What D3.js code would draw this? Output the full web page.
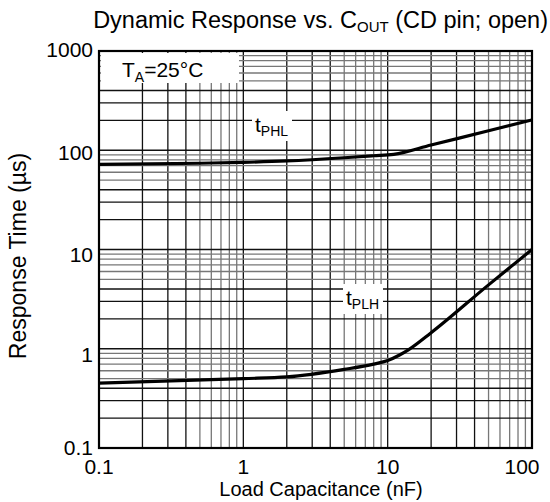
<!DOCTYPE html>
<html><head><meta charset="utf-8">
<script src="https://cdn.jsdelivr.net/npm/d3@7"></script>
<style>body{margin:0;background:#fff}svg{display:block}text{font-family:"Liberation Sans",Arial,sans-serif;fill:#000}</style>
</head><body><svg id="c" width="550" height="502"></svg>
<script>
const xTicks = [0.1, 1, 10, 100];
const yTicks = [0.1, 1, 10, 100, 1000];
const tPHL = [[0.1,72],[0.5,74],[1,75.5],[2,78],[5,84],[8,88],[11,91],[20,113],[50,157],[100,202]];
const tPLH = [[0.1,0.45],[1,0.5],[2,0.52],[5,0.62],[8,0.7],[10,0.76],[12,0.86],[14,0.98],[20,1.45],[50,4.4],[100,10]];

const svg = d3.select("#c");
const L=99, R=532, T=51, B=448;
const x = d3.scaleLog().domain([0.1,100]).range([L,R]);
const y = d3.scaleLog().domain([0.1,1000]).range([B,T]);

const g = svg.append("g");
const xs=[], ys=[];
for (let d=0.1; d<100; d*=10) for (let k=1;k<=9;k++) xs.push([d*k,k]);
for (let d=0.1; d<1000; d*=10) for (let k=1;k<=9;k++) ys.push([d*k,k]);
const col = k => (k<=4 ? "#111" : "#777");
g.selectAll(".gx").data(xs).join("line")
  .attr("x1",d=>x(d[0])).attr("x2",d=>x(d[0])).attr("y1",T).attr("y2",B)
  .attr("stroke",d=>col(d[1])).attr("stroke-width",1.3);
g.selectAll(".gy").data(ys).join("line")
  .attr("y1",d=>y(d[0])).attr("y2",d=>y(d[0])).attr("x1",L).attr("x2",R)
  .attr("stroke",d=>col(d[1])).attr("stroke-width",1.3);

svg.append("rect").attr("x",L).attr("y",T).attr("width",R-L).attr("height",B-T)
  .attr("fill","none").attr("stroke","#000").attr("stroke-width",2.2);

svg.append("rect").attr("x",L+2).attr("y",T+2).attr("width",138).attr("height",30).attr("fill","#fff");
const ta = svg.append("text").attr("x",122).attr("y",77).attr("font-size",21);
ta.append("tspan").text("T");
ta.append("tspan").attr("font-size",14).attr("dy",5).text("A");
ta.append("tspan").attr("dy",-5).text("=25°C");

const line = d3.line().x(d=>x(d[0])).y(d=>y(d[1])).curve(d3.curveMonotoneX);
[tPHL,tPLH].forEach(s=>svg.append("path").attr("d",line(s)).attr("fill","none")
  .attr("stroke","#000").attr("stroke-width",3.2));

function lab(xp,yp,sub){
  svg.append("rect").attr("x",xp-3).attr("y",yp-21).attr("width",40).attr("height",30).attr("fill","#fff");
  const t=svg.append("text").attr("x",xp).attr("y",yp).attr("font-size",21);
  t.append("tspan").text("t");
  t.append("tspan").attr("font-size",14).attr("dy",4).text(sub);
}
lab(255,132,"PHL");
lab(346,305,"PLH");

svg.selectAll(".xl").data(xTicks).join("text")
  .attr("x",(d,i)=>x(d)+(i===3?-10:0)).attr("y",474).attr("text-anchor","middle").attr("font-size",21)
  .text(d=>String(d));
const yOff=[0,6,5,3,-1];
svg.selectAll(".yl").data(yTicks).join("text")
  .attr("x",93).attr("y",(d,i)=>y(d)+7+yOff[i]).attr("text-anchor","end").attr("font-size",21)
  .text(d=>String(d));

svg.append("text").attr("x",321).attr("y",496).attr("text-anchor","middle").attr("font-size",20)
  .text("Load Capacitance (nF)");
svg.append("text").attr("transform","translate(26,256) rotate(-90)").attr("text-anchor","middle").attr("font-size",23)
  .text("Response Time (µs)");

const tt=svg.append("text").attr("x",548).attr("y",28).attr("text-anchor","end").attr("font-size",23.5);
tt.append("tspan").text("Dynamic Response vs. C");
tt.append("tspan").attr("font-size",15).attr("dy",4).text("OUT");
tt.append("tspan").attr("dy",-4).text(" (CD pin; open)");
</script></body></html>
